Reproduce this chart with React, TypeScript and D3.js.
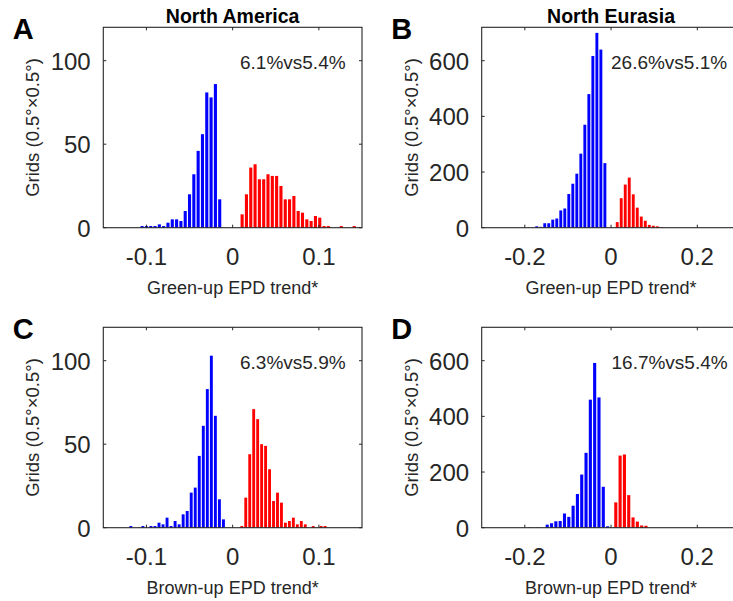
import React from "react";
import * as d3 from "d3";

// ---------- data (histogram counts) ----------
// Panel A: North America, green-up
const aBlueStart = -0.105;
const aBlueWidth = 0.005;
const aBlue = [1, 1, 1, 1, 2, 1, 3, 5, 5, 4, 10, 20, 32, 46, 56, 81, 78, 86, 17];
const aRedStart = 0.011;
const aRedWidth = 0.005;
const aRed = [8, 20, 36, 38, 29, 29, 32, 31, 31, 25, 17, 17, 19, 10, 9, 5, 4, 7, 6, 1, 1, 0, 0, 1, 0, 0, 1];

// Panel B: North Eurasia, green-up
const bBlueStart = -0.1724;
const bBlueWidth = 0.0093;
const bBlue = [5, 3, 16, 16, 29, 33, 62, 69, 121, 158, 194, 266, 370, 480, 617, 700, 640, 232];
const bRedStart = 0.0143;
const bRedWidth = 0.0093;
const bRed = [20, 106, 155, 180, 120, 72, 40, 25, 10, 7, 5, 2];

// Panel C: North America, brown-up
const cBlueStart = -0.1181;
const cBlueWidth = 0.00467;
const cBlue = [1, 0, 0, 1, 0, 1, 1, 3, 2, 6, 1, 4, 2, 8, 10, 21, 24, 43, 61, 83, 103, 67, 17, 5];
const cRedStart = 0.0106;
const cRedWidth = 0.0046;
const cRed = [1, 18, 44, 71, 65, 50, 49, 35, 16, 21, 15, 3, 4, 6, 2, 4, 2, 0, 1, 0, 1, 1];

// Panel D: North Eurasia, brown-up
const dBlueStart = -0.188;
const dBlueWidth = 0.01;
const dBlue = [1, 0, 1, 0, 11, 16, 23, 24, 51, 39, 79, 121, 191, 269, 460, 592, 468, 147, 5];
const dRedStart = 0.011;
const dRedWidth = 0.01;
const dRed = [91, 259, 263, 117, 37, 22, 8, 7];

// tick values / labels
const naXTicks = [-0.1, 0, 0.1];
const naYTicks = [0, 50, 100];
const euXTicks = [-0.2, 0, 0.2];
const euYTicks = [0, 200, 400, 600];
const naXDomain = [-0.15, 0.15];
const euXDomain = [-0.3, 0.3];
const naYMax = 120;
const euYMax = 720;

const annotations = ["6.1%vs5.4%", "26.6%vs5.1%", "6.3%vs5.9%", "16.7%vs5.4%"];
const titles = ["North America", "North Eurasia"];
const xLabels = ["Green-up EPD trend*", "Brown-up EPD trend*"];
const yLabel = "Grids (0.5°×0.5°)";

// ---------- layout ----------
const W = 733;
const H = 601;
const FONT = "'Liberation Sans', Arial, Helvetica, sans-serif";
const AX = "#262626";

type Series = { start: number; width: number; counts: number[]; color: string };
type PanelCfg = {
  letter: string;
  left: number;
  top: number;
  xDomain: number[];
  yMax: number;
  xTicks: number[];
  yTicks: number[];
  ann: string;
  annX: number;
  title?: string;
  xLabel: string;
  series: Series[];
};

const PW = 258.7;
const PH = 200.4;

const panels: PanelCfg[] = [
  {
    letter: "A", left: 103.3, top: 27.3, xDomain: naXDomain, yMax: naYMax,
    xTicks: naXTicks, yTicks: naYTicks, ann: annotations[0], annX: 240,
    title: titles[0], xLabel: xLabels[0],
    series: [
      { start: aBlueStart, width: aBlueWidth, counts: aBlue, color: "#0000ff" },
      { start: aRedStart, width: aRedWidth, counts: aRed, color: "#ff0000" },
    ],
  },
  {
    letter: "B", left: 481.7, top: 27.3, xDomain: euXDomain, yMax: euYMax,
    xTicks: euXTicks, yTicks: euYTicks, ann: annotations[1], annX: 611,
    title: titles[1], xLabel: xLabels[0],
    series: [
      { start: bBlueStart, width: bBlueWidth, counts: bBlue, color: "#0000ff" },
      { start: bRedStart, width: bRedWidth, counts: bRed, color: "#ff0000" },
    ],
  },
  {
    letter: "C", left: 103.3, top: 327.3, xDomain: naXDomain, yMax: naYMax,
    xTicks: naXTicks, yTicks: naYTicks, ann: annotations[2], annX: 240,
    xLabel: xLabels[1],
    series: [
      { start: cBlueStart, width: cBlueWidth, counts: cBlue, color: "#0000ff" },
      { start: cRedStart, width: cRedWidth, counts: cRed, color: "#ff0000" },
    ],
  },
  {
    letter: "D", left: 481.7, top: 327.3, xDomain: euXDomain, yMax: euYMax,
    xTicks: euXTicks, yTicks: euYTicks, ann: annotations[3], annX: 611.5,
    xLabel: xLabels[1],
    series: [
      { start: dBlueStart, width: dBlueWidth, counts: dBlue, color: "#0000ff" },
      { start: dRedStart, width: dRedWidth, counts: dRed, color: "#ff0000" },
    ],
  },
];

const fmt = (v: number) => (v === 0 ? "0" : String(v));

function Panel({ p }: { p: PanelCfg }) {
  const x = d3.scaleLinear().domain(p.xDomain).range([p.left, p.left + PW]);
  const y = d3.scaleLinear().domain([0, p.yMax]).range([p.top + PH, p.top]);
  const bottom = p.top + PH;
  const right = p.left + PW;
  const cx = p.left + PW / 2;
  const TL = 3;
  return (
    <g>
      {/* bars */}
      {p.series.map((s, si) =>
        s.counts.map((c, i) => {
          if (c <= 0) return null;
          const center = s.start + i * s.width;
          const bw = (x(s.width) - x(0)) * 0.72;
          return (
            <rect
              key={`${si}-${i}`}
              x={x(center) - bw / 2}
              y={y(c)}
              width={bw}
              height={bottom - y(c)}
              fill={s.color}
            />
          );
        })
      )}
      {/* box */}
      <rect x={p.left} y={p.top} width={PW} height={PH} fill="none" stroke={AX} strokeWidth={1.1} />
      {/* x ticks */}
      {p.xTicks.map((t) => (
        <g key={`xt${t}`}>
          <line x1={x(t)} x2={x(t)} y1={bottom} y2={bottom - TL} stroke={AX} strokeWidth={1} />
          <line x1={x(t)} x2={x(t)} y1={p.top} y2={p.top + TL} stroke={AX} strokeWidth={1} />
          <text x={x(t)} y={bottom + 37.5} textAnchor="middle" fontSize={24} fill={AX} fontFamily={FONT}>
            {fmt(t)}
          </text>
        </g>
      ))}
      {/* y ticks */}
      {p.yTicks.map((t) => (
        <g key={`yt${t}`}>
          <line x1={p.left} x2={p.left + TL} y1={y(t)} y2={y(t)} stroke={AX} strokeWidth={1} />
          <line x1={right} x2={right - TL} y1={y(t)} y2={y(t)} stroke={AX} strokeWidth={1} />
          <text x={p.left - 12.6} y={y(t) + 9} textAnchor="end" fontSize={24} fill={AX} fontFamily={FONT}>
            {t}
          </text>
        </g>
      ))}
      {/* labels */}
      <text x={cx} y={bottom + 66.5} textAnchor="middle" fontSize={18} fill={AX} fontFamily={FONT}>
        {p.xLabel}
      </text>
      <text
        transform={`translate(${p.left - 64},${p.top + PH / 2}) rotate(-90)`}
        textAnchor="middle"
        fontSize={18.5}
        fill={AX}
        fontFamily={FONT}
      >
        {yLabel}
      </text>
      <text x={p.annX} y={p.top + 42} fontSize={19} fill={AX} fontFamily={FONT}>
        {p.ann}
      </text>
      {p.title && (
        <text x={cx} y={p.top - 4.8} textAnchor="middle" fontSize={19.5} fontWeight="bold" fill="#000" fontFamily={FONT}>
          {p.title}
        </text>
      )}
      <text x={p.left - 90.5} y={p.top + 12} fontSize={29} fontWeight="bold" fill="#000" fontFamily={FONT}>
        {p.letter}
      </text>
    </g>
  );
}

export default function App() {
  return (
    <svg
      width={W}
      height={H}
      viewBox={`0 0 ${W} ${H}`}
      style={{ position: "absolute", left: 0, top: 0, background: "#fff" }}
    >
      <rect x={0} y={0} width={W} height={H} fill="#fff" />
      {panels.map((p) => (
        <Panel key={p.letter} p={p} />
      ))}
    </svg>
  );
}
